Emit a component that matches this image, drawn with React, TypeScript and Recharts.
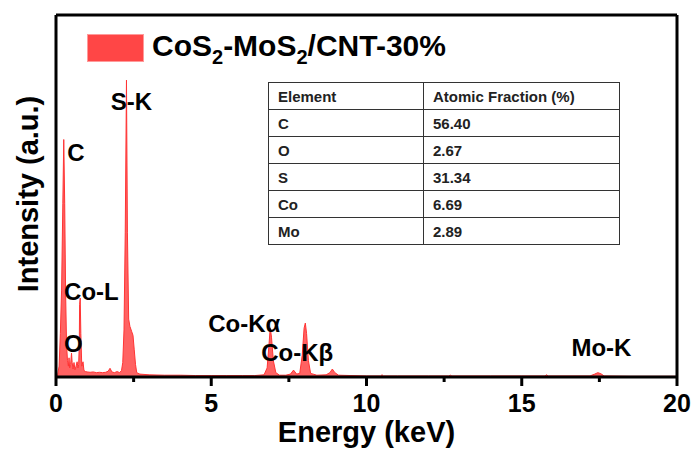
import React from "react";
import { AreaChart, Area, XAxis, YAxis, ReferenceDot } from "recharts";

// EDS spectrum, energy in keV and counts in arbitrary units
const energy = [
  0.0, 0.05, 0.1, 0.14, 0.18, 0.22, 0.25, 0.28, 0.31, 0.34, 0.37, 0.4, 0.42, 0.44, 0.47, 0.5,
  0.52, 0.55, 0.58, 0.61, 0.64, 0.68, 0.71, 0.73, 0.75, 0.76, 0.78, 0.8, 0.83, 0.87, 0.9, 0.95,
  1.0, 1.1, 1.2, 1.3, 1.4, 1.5, 1.6, 1.68, 1.74, 1.8, 1.88, 1.97, 2.05, 2.11, 2.15, 2.19, 2.23,
  2.27, 2.3, 2.34, 2.38, 2.44, 2.48, 2.52, 2.56, 2.6, 2.7, 3.0, 3.5, 4.0, 4.5, 5.0, 5.5, 6.0,
  6.4, 6.7, 6.8, 6.86, 6.9, 6.94, 7.0, 7.08, 7.2, 7.4, 7.55, 7.65, 7.75, 7.85, 7.93, 7.99, 8.03,
  8.07, 8.13, 8.2, 8.4, 8.7, 8.82, 8.9, 8.98, 9.1, 9.5, 10.0, 10.45, 10.5, 10.55, 11.0, 12.0,
  12.65, 12.7, 12.75, 14.0, 15.0, 15.75, 15.8, 15.85, 17.2, 17.35, 17.45, 17.55, 17.65, 18.5, 20.0,
];
const counts = [
  0, 5, 30, 120, 240, 480, 656, 480, 230, 90, 45, 30, 53, 25, 35, 66,
  40, 22, 40, 20, 28, 42, 25, 35, 90, 200, 218, 120, 30, 42, 18, 15,
  14, 13, 14, 12, 13, 12, 13, 16, 24, 14, 12, 15, 12, 18, 40, 130, 400,
  820, 400, 160, 140, 125, 115, 75, 35, 12, 8, 6, 5, 5, 4, 4, 4, 4,
  4, 6, 25, 90, 136, 110, 45, 12, 5, 5, 8, 19, 8, 10, 60, 135, 149,
  120, 45, 10, 5, 6, 12, 22, 12, 5, 4, 3, 3, 6, 3, 3, 3,
  3, 5, 3, 3, 3, 3, 6, 3, 3, 8, 12, 9, 3, 2, 2,
];

const xTicks = [0, 2.5, 5, 7.5, 10, 12.5, 15, 17.5, 20];

// peak labels, anchored at their text baseline start (keV, counts)
const peakLabels = [
  { text: "C", e: 0.36, v: 596 },
  { text: "S-K", e: 1.76, v: 737 },
  { text: "Co-L", e: 0.26, v: 213 },
  { text: "O", e: 0.26, v: 69 },
  { text: "Co-Kα", e: 4.9, v: 125 },
  { text: "Co-Kβ", e: 6.61, v: 44 },
  { text: "Mo-K", e: 16.6, v: 58 },
];

const tableHeader = ["Element", "Atomic Fraction (%)"];
const elements = ["C", "O", "S", "Co", "Mo"];
const fractions = ["56.40", "2.67", "31.34", "6.69", "2.89"];

const FONT = "Arial, 'Liberation Sans', Helvetica, sans-serif";

const data = energy.map((e, i) => ({ e, v: counts[i] }));

const EnergyTick = (props: any) => {
  const { x, y, payload } = props;
  const major = payload.value % 5 === 0;
  return (
    <g>
      <line x1={x} x2={x} y1={y} y2={y + (major ? 9 : 5)} stroke="#000" strokeWidth={3} />
      {major && (
        <text x={x} y={y + 35} textAnchor="middle" fontFamily={FONT} fontWeight="bold" fontSize={25} fill="#000">
          {payload.value}
        </text>
      )}
    </g>
  );
};

export default function App() {
  const cellStyle: React.CSSProperties = {
    border: "1.5px solid #333",
    padding: "0 0 0 9px",
    height: 26,
    fontSize: 15,
    fontWeight: "bold",
    color: "#222",
    textAlign: "left",
  };
  const subStyle: React.CSSProperties = { fontSize: 20, verticalAlign: -8, lineHeight: 0 };

  return (
    <div style={{ position: "absolute", left: 0, top: 0, width: 694, height: 450, background: "#fff", fontFamily: FONT }}>
      <AreaChart width={694} height={450} data={data} margin={{ top: 14, right: 16, left: 55, bottom: 33 }}>
        <XAxis
          dataKey="e"
          type="number"
          domain={[0, 20]}
          ticks={xTicks}
          interval={0}
          tickLine={false}
          tickSize={0}
          tickMargin={0}
          tick={<EnergyTick />}
          axisLine={{ stroke: "#000", strokeWidth: 3 }}
          height={40}
          label={({ viewBox }: any) => (
            <text x={viewBox.x + viewBox.width / 2} y={viewBox.y + 65} textAnchor="middle" fontFamily={FONT} fontWeight="bold" fontSize={29} fill="#000">
              Energy (keV)
            </text>
          )}
        />
        <XAxis xAxisId="top" orientation="top" type="number" domain={[0, 20]} tick={false} tickLine={false} height={1} axisLine={{ stroke: "#000", strokeWidth: 3 }} />
        <YAxis type="number" domain={[0, 1000]} tick={false} tickLine={false} width={1} axisLine={{ stroke: "#000", strokeWidth: 3 }} />
        <YAxis yAxisId="right" orientation="right" type="number" domain={[0, 1000]} tick={false} tickLine={false} width={1} axisLine={{ stroke: "#000", strokeWidth: 3 }} />
        <Area
          type="linear"
          dataKey="v"
          stroke="#ff3434"
          strokeWidth={1}
          fill="#ff4646"
          fillOpacity={0.85}
          isAnimationActive={false}
          dot={false}
          activeDot={false}
        />
        {peakLabels.map((p) => (
          <ReferenceDot
            key={p.text}
            x={p.e}
            y={p.v}
            r={0}
            ifOverflow="visible"
            shape={(s: any) => (
              <text x={s.cx} y={s.cy} fontFamily={FONT} fontWeight="bold" fontSize={24} fill="#000">
                {p.text}
              </text>
            )}
          />
        ))}
      </AreaChart>

      {/* legend */}
      <div style={{ position: "absolute", left: 87, top: 34, width: 55, height: 26, background: "#ff4646", border: "1px solid #ff9a9a" }} />
      <div style={{ position: "absolute", left: 152, top: 31, fontSize: 30, fontWeight: "bold", color: "#000", lineHeight: "30px", whiteSpace: "nowrap" }}>
        CoS<span style={subStyle}>2</span>-MoS<span style={subStyle}>2</span>/CNT-30%
      </div>

      {/* y axis title */}
      <div
        style={{
          position: "absolute",
          left: 28,
          top: 194,
          transform: "translate(-50%, -50%) rotate(-90deg)",
          whiteSpace: "nowrap",
          fontSize: 29,
          fontWeight: "bold",
          color: "#000",
        }}
      >
        Intensity (a.u.)
      </div>

      {/* composition table */}
      <table
        style={{
          position: "absolute",
          left: 268,
          top: 82,
          width: 352,
          borderCollapse: "collapse",
          background: "#fff",
          fontFamily: FONT,
        }}
      >
        <tbody>
          <tr>
            <td style={{ ...cellStyle, width: 145 }}>{tableHeader[0]}</td>
            <td style={cellStyle}>{tableHeader[1]}</td>
          </tr>
          {elements.map((el, i) => (
            <tr key={el}>
              <td style={cellStyle}>{el}</td>
              <td style={cellStyle}>{fractions[i]}</td>
            </tr>
          ))}
        </tbody>
      </table>
    </div>
  );
}
